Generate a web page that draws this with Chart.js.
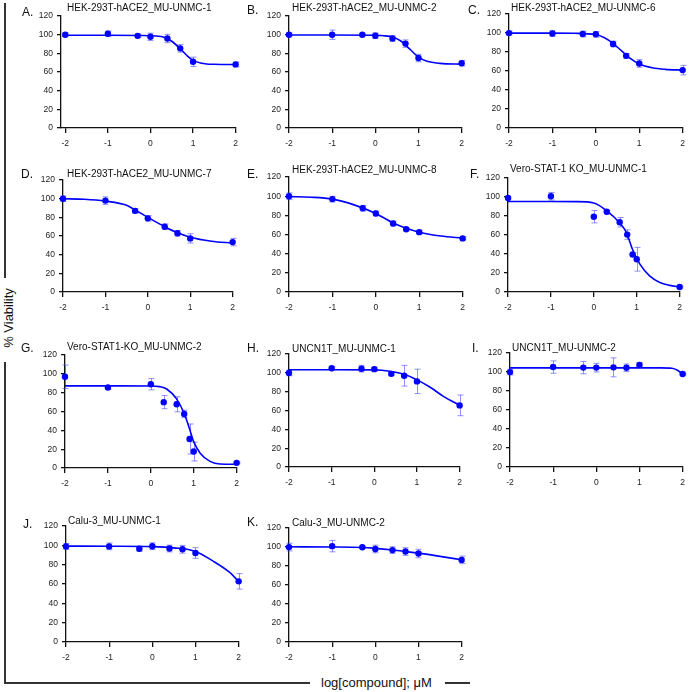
<!DOCTYPE html>
<html>
<head>
<meta charset="utf-8">
<script src="https://cdn.jsdelivr.net/npm/chart.js@4.4.0/dist/chart.umd.min.js"></script>
<style>
body { margin: 0; background: #fff; }
#fig { position: relative; width: 696px; height: 692px; overflow: hidden; font-family: "Liberation Sans", Arial, sans-serif; color: #111; }
#fig canvas { position: absolute; }
.lbl { position: absolute; white-space: nowrap; line-height: 1; }
.let { font-size: 12px; }
.ttl { font-size: 10px; }
.rule { position: absolute; background: #333; }
</style>
</head>
<body>
<div id="fig">
  <div class="rule" style="left:4px;top:3px;width:2px;height:275px"></div>
  <div class="rule" style="left:4px;top:362px;width:2px;height:322px"></div>
  <div class="rule" style="left:4px;top:682px;width:306px;height:2px"></div>
  <div class="rule" style="left:445px;top:682px;width:25px;height:2px"></div>
  <div class="lbl" style="left:8px;top:318px;font-size:13px;transform:translate(-50%,-50%) rotate(-90deg)">% Viability</div>
  <div class="lbl" style="left:321px;top:676px;font-size:13px">log[compound]; μM</div>
</div>
<script>
// log10 of concentration (uM)
var logDose = [-2, -1, -0.301, 0, 0.398, 0.699, 1, 2];
var logDoseVero = [-2, -1, 0, 0.301, 0.602, 0.778, 0.903, 1, 2];
var xTicks = [-2, -1, 0, 1, 2];
var yTicks = [0, 20, 40, 60, 80, 100, 120];

var letters = ['A.', 'B.', 'C.', 'D.', 'E.', 'F.', 'G.', 'H.', 'I.', 'J.', 'K.'];
var titles = ['HEK-293T-hACE2_MU-UNMC-1', 'HEK-293T-hACE2_MU-UNMC-2', 'HEK-293T-hACE2_MU-UNMC-6',
    'HEK-293T-hACE2_MU-UNMC-7', 'HEK-293T-hACE2_MU-UNMC-8', 'Vero-STAT-1 KO_MU-UNMC-1',
    'Vero-STAT1-KO_MU-UNMC-2', 'UNCN1T_MU-UNMC-1', 'UNCN1T_MU-UNMC-2',
    'Calu-3_MU-UNMC-1', 'Calu-3_MU-UNMC-2'];

// mean % viability, SD, and fitted curve
var viabA = [100, 101, 98.8, 97.8, 96, 85.4, 71, 68.2];
var sdA = [2, 3, 2, 3.9, 4.5, 4, 5, 2.5];
var fitXA = [-2, -1, 0, 0.3, 0.5, 0.7, 0.85, 1, 1.2, 1.5, 2];
var fitYA = [99.5, 99.5, 99, 97.5, 93, 85, 78, 72.5, 69.5, 68.3, 68];

var viabB = [100, 100, 100, 99, 96, 90.5, 75, 69.5];
var sdB = [2, 5, 1, 3, 3, 4, 4, 3];
var fitXB = [-2, -1, 0, 0.2, 0.4, 0.6, 0.8, 1, 1.2, 1.5, 2];
var fitYB = [99.7, 99.7, 99.5, 99, 97.5, 93, 84.5, 76, 71.5, 69.3, 68.5];

var viabC = [100, 99.5, 99, 98.7, 88.5, 76, 68, 61];
var sdC = [2, 3, 3, 3, 3, 2.5, 4, 5];
var fitXC = [-2, -1, -0.5, 0, 0.2, 0.4, 0.6, 0.8, 1, 1.3, 1.6, 2];
var fitYC = [100, 100, 99.8, 98.5, 95, 89, 81, 73, 67.5, 63.5, 61.8, 61];

var viabD = [100, 98, 87, 79, 70, 63, 57.5, 53.5];
var sdD = [3, 4, 2.5, 3, 3, 3, 5, 4];
var fitXD = [-2, -1.5, -1, -0.5, -0.3, 0, 0.4, 0.7, 1, 1.5, 2];
var fitYD = [100, 99.5, 97.5, 93, 88, 80, 70, 63.5, 58.8, 54.5, 52.5];

var viabE = [100, 97, 87.5, 82, 71.5, 65.5, 62.5, 56];
var sdE = [3.5, 3, 3, 2.5, 2.5, 1.5, 2, 1.5];
var fitXE = [-2, -1.5, -1, -0.5, 0, 0.4, 0.7, 1, 1.5, 2];
var fitYE = [99.6, 99, 97, 91, 82, 72, 66.5, 62.5, 58.5, 56.3];

var viabF = [99, 100.9, 79.3, 84.5, 73.5, 60.5, 39.5, 34.5, 5.3];
var sdF = [1, 4, 6.5, 1, 5, 5, 2, 12.5, 1];
var fitXF = [-2, -1, -0.4, 0, 0.3, 0.6, 0.76, 0.9, 1.07, 1.3, 1.54, 1.77, 2];
var fitYF = [95.3, 95.3, 95.2, 93.8, 85.5, 73, 62.5, 45, 29.6, 17, 10, 7, 5.2];

var viabG = [97, 85.5, 89, 70, 67.7, 57.5, 30.8, 17.5, 5.5];
var sdG = [12.5, 2, 6, 7, 8, 4, 16, 10, 1];
var fitXG = [-2, -1, 0, 0.2, 0.37, 0.6, 0.78, 0.9, 1, 1.15, 1.38, 1.61, 2];
var fitYG = [87.3, 87.3, 87.2, 86.5, 84, 73.5, 57.7, 42, 28, 15.7, 7, 4.2, 4];

var viabH = [100, 105, 104.5, 104, 99, 97, 91, 65.5];
var sdH = [3, 1.5, 3.5, 2, 2, 11, 13, 11];
var fitXH = [-2, -1, 0, 0.36, 0.7, 1, 1.3, 1.61, 2];
var fitYH = [103.4, 103.4, 103.2, 101.8, 98.5, 92.6, 85, 75.4, 65.6];

var viabI = [100, 105.3, 104.7, 104.7, 105, 104.5, 107.5, 98];
var sdI = [3, 6.5, 6.5, 4.5, 10, 4, 2.5, 1];
var fitXI = [-2, 0, 1, 1.5, 1.75, 1.88, 2];
var fitYI = [104.4, 104.4, 104.4, 104.4, 104, 102, 98];

var viabJ = [99, 99, 96.5, 99.2, 96.8, 96, 92.2, 62.8];
var sdJ = [3, 3.5, 2.5, 3.5, 3.5, 4, 5.5, 8];
var fitXJ = [-2, -1, 0, 0.5, 1, 1.4, 1.78, 2];
var fitYJ = [99.3, 99.2, 98.8, 97.5, 93.8, 84, 72.5, 62.7];

var viabK = [100, 101, 99.8, 98, 96.8, 95.3, 93.2, 86.5];
var sdK = [4, 6, 1, 4, 3.5, 4, 4.5, 4];
var fitXK = [-2, -1, -0.3, 0, 0.4, 0.7, 1, 1.5, 2];
var fitYK = [100.3, 100.1, 99.5, 98.6, 96.9, 95.3, 93.6, 90.2, 86.6];

// plot box = [axis left px, x=2 px, y=120 px, y=0 px]; letter/title = [left, cap top]
var panels = [
    { x: logDose, y: viabA, sd: sdA, fx: fitXA, fy: fitYA, box: [61, 236, 15, 128], xmin: -2.1, let: [22, 8], ttl: [67, 4] },
    { x: logDose, y: viabB, sd: sdB, fx: fitXB, fy: fitYB, box: [289, 462, 15, 128], xmin: -2, let: [247, 6], ttl: [292, 4] },
    { x: logDose, y: viabC, sd: sdC, fx: fitXC, fy: fitYC, box: [509, 683, 13, 128], xmin: -2, let: [468, 6], ttl: [511, 4] },
    { x: logDose, y: viabD, sd: sdD, fx: fitXD, fy: fitYD, box: [63, 233, 179, 292], xmin: -2, let: [21, 170], ttl: [67, 170] },
    { x: logDose, y: viabE, sd: sdE, fx: fitXE, fy: fitYE, box: [289, 463, 176, 292], xmin: -2, let: [247, 170], ttl: [292, 166] },
    { x: logDoseVero, y: viabF, sd: sdF, fx: fitXF, fy: fitYF, box: [508, 680, 177, 292], xmin: -2, let: [470, 170], ttl: [510, 165] },
    { x: logDoseVero, y: viabG, sd: sdG, fx: fitXG, fy: fitYG, box: [65, 237, 354, 468], xmin: -2, let: [21, 344], ttl: [67, 343] },
    { x: logDose, y: viabH, sd: sdH, fx: fitXH, fy: fitYH, box: [289, 460, 353, 467], xmin: -2, let: [247, 344], ttl: [292, 345] },
    { x: logDose, y: viabI, sd: sdI, fx: fitXI, fy: fitYI, box: [510, 683, 352, 467], xmin: -2, let: [472, 344], ttl: [512, 344] },
    { x: logDose, y: viabJ, sd: sdJ, fx: fitXJ, fy: fitYJ, box: [66, 239, 525, 642], xmin: -2, let: [23, 520], ttl: [68, 517] },
    { x: logDose, y: viabK, sd: sdK, fx: fitXK, fy: fitYK, box: [289, 462, 527, 642], xmin: -2, let: [247, 518], ttl: [292, 519] }
];

var blue = '#0000ff';
var errColor = 'rgba(70, 70, 255, 0.6)';
var YAXIS_W = 34, XAXIS_H = 24, PAD_T = 8, PAD_R = 8;

var errorBars = {
    id: 'errorBars',
    beforeDatasetsDraw: function (chart) {
        var ds = chart.data.datasets[1];
        var xs = chart.scales.x, ys = chart.scales.y;
        var ctx = chart.ctx;
        ctx.save();
        ctx.strokeStyle = errColor;
        ctx.lineWidth = 1;
        ds.data.forEach(function (p, i) {
            var e = ds.sd[i];
            var px = Math.round(xs.getPixelForValue(p.x)) + 0.5;
            var t = ys.getPixelForValue(p.y + e), b = ys.getPixelForValue(p.y - e);
            ctx.beginPath();
            ctx.moveTo(px, t); ctx.lineTo(px, b);
            ctx.moveTo(px - 3, t); ctx.lineTo(px + 3, t);
            ctx.moveTo(px - 3, b); ctx.lineTo(px + 3, b);
            ctx.stroke();
        });
        ctx.restore();
    }
};

var fig = document.getElementById('fig');

function addText(cls, txt, pos, capOff) {
    var d = document.createElement('div');
    d.className = 'lbl ' + cls;
    d.textContent = txt;
    d.style.left = pos[0] + 'px';
    d.style.top = (pos[1] - capOff) + 'px';
    fig.appendChild(d);
}

panels.forEach(function (p, k) {
    var b = p.box;
    var cv = document.createElement('canvas');
    var w = YAXIS_W + (b[1] - b[0]) + PAD_R;
    var h = PAD_T + (b[3] - b[2]) + XAXIS_H;
    cv.width = w; cv.height = h;
    cv.style.left = (b[0] - YAXIS_W) + 'px';
    cv.style.top = (b[2] - PAD_T) + 'px';
    fig.appendChild(cv);

    addText('let', letters[k], p.let, 1.6);
    addText('ttl', titles[k], p.ttl, 1.3);

    var pts = p.x.map(function (v, i) { return { x: v, y: p.y[i] }; });
    var fit = p.fx.map(function (v, i) { return { x: v, y: p.fy[i] }; });

    new Chart(cv, {
        type: 'scatter',
        data: {
            datasets: [
                {
                    data: fit, showLine: true, borderColor: blue, borderWidth: 1.6,
                    pointRadius: 0, cubicInterpolationMode: 'monotone', clip: false
                },
                {
                    data: pts, sd: p.sd, showLine: false, pointRadius: 3.2,
                    backgroundColor: blue, borderColor: blue, borderWidth: 0, clip: false
                }
            ]
        },
        options: {
            responsive: false,
            animation: false,
            events: [],
            layout: { padding: { top: PAD_T, right: PAD_R, left: 0, bottom: 0 } },
            plugins: { legend: { display: false }, tooltip: { enabled: false } },
            scales: {
                x: {
                    type: 'linear', min: p.xmin, max: 2,
                    afterFit: function (a) { a.height = XAXIS_H; },
                    afterBuildTicks: function (a) { a.ticks = xTicks.map(function (v) { return { value: v }; }); },
                    border: { color: '#111', width: 1.3 },
                    grid: { drawOnChartArea: false, color: '#111', lineWidth: 1.3, tickLength: 5 },
                    ticks: { color: '#222', padding: 6, maxRotation: 0, font: { family: 'Liberation Sans', size: 8.5 } }
                },
                y: {
                    min: 0, max: 120,
                    afterFit: function (a) { a.width = YAXIS_W; },
                    afterBuildTicks: function (a) { a.ticks = yTicks.map(function (v) { return { value: v }; }); },
                    border: { color: '#111', width: 1.3 },
                    grid: { drawOnChartArea: false, color: '#111', lineWidth: 1.3, tickLength: 4 },
                    ticks: { color: '#222', padding: 4, font: { family: 'Liberation Sans', size: 8.5 } }
                }
            }
        },
        plugins: [errorBars]
    });
});
</script>
</body>
</html>
